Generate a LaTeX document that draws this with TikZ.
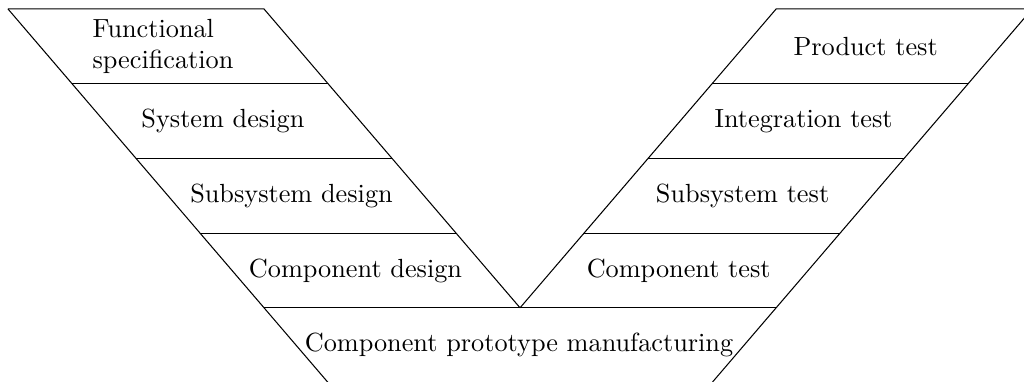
\documentclass[tikz,border=0pt]{standalone}
\usepackage{amsmath,amssymb}
\usepackage{tikz}

\begin{document}
\begin{tikzpicture}
\clip (-0.107,0.12) rectangle (13.6,-4.98);
% left branch
\draw (0,0) -- (3.427,0) -- (6.854,-4);
\draw (0,0) -- (4.284,-5);
\draw (0.857,-1) -- (4.284,-1);
\draw (1.714,-2) -- (5.141,-2);
\draw (2.570,-3) -- (5.998,-3);
\draw (3.427,-4) -- (10.282,-4);
% right branch
\draw (6.854,-4) -- (10.282,0) -- (13.709,0);
\draw (13.709,0) -- (9.425,-5);
\draw (9.425,-1) -- (12.852,-1);
\draw (8.568,-2) -- (11.995,-2);
\draw (7.711,-3) -- (11.138,-3);
% labels
\node[align=left] (funcspec) at (2.075,-0.5) {Functional\\specification};
\node (sysdes) at (2.877,-1.5) {System design};
\node (subdes) at (3.795,-2.5) {Subsystem design};
\node (compdes) at (4.652,-3.5) {Component design};
\node (proto) at (6.84,-4.5) {Component prototype manufacturing};
\node (comptest) at (8.978,-3.5) {Component test};
\node (subtest) at (9.833,-2.5) {Subsystem test};
\node (inttest) at (10.65,-1.5) {Integration test};
\node (prodtest) at (11.48,-0.5) {Product test};
\end{tikzpicture}
\end{document}
